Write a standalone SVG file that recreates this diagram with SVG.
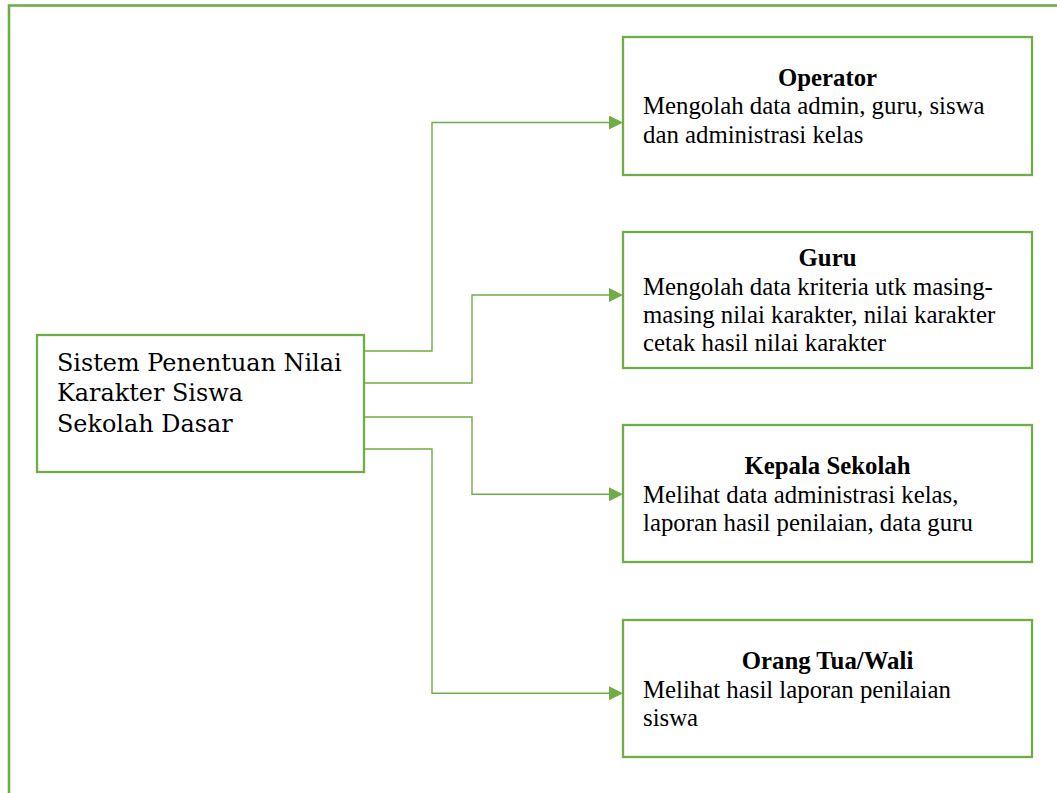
<svg xmlns="http://www.w3.org/2000/svg" width="1057" height="793" viewBox="0 0 1057 793">
<defs>
<style>
.frame{fill:none;stroke:#70AD47;stroke-width:2.6}
.box{fill:#fff;stroke:#70AD47;stroke-width:2.3}
.conn{fill:none;stroke:#70AD47;stroke-width:1.4}
.t{font-family:"Liberation Serif","Times New Roman",serif;font-size:24.8px;fill:#000}
.b{font-weight:bold;text-anchor:middle}
.m{font-family:"DejaVu Serif","Bookman Old Style",serif;font-size:23.9px;fill:#000}
</style>
<marker id="ah" markerWidth="14" markerHeight="14" refX="0" refY="7" orient="auto" markerUnits="userSpaceOnUse">
<path d="M0,0 L14,7 L0,14 z" fill="#70AD47"/>
</marker>
</defs>
<rect width="1057" height="793" fill="#fff"/>
<rect class="frame" x="9" y="5.5" width="1100" height="850"/>
<g id="connectors">
<path class="conn" d="M365,351 H432 V122.5 H609" marker-end="url(#ah)"/>
<path class="conn" d="M365,383 H472 V295 H609" marker-end="url(#ah)"/>
<path class="conn" d="M365,417 H472 V494.3 H609" marker-end="url(#ah)"/>
<path class="conn" d="M365,449 H432 V693.3 H609" marker-end="url(#ah)"/>
</g>
<g id="main">
<rect class="box" x="37" y="335" width="327" height="137"/>
<text class="m" x="57" y="371">Sistem Penentuan Nilai</text>
<text class="m" x="57" y="401">Karakter Siswa</text>
<text class="m" x="57" y="431.5">Sekolah Dasar</text>
</g>
<g id="operator">
<rect class="box" x="623" y="37" width="409" height="138"/>
<text class="t b" x="827.5" y="85.7">Operator</text>
<text class="t" x="643" y="114.3">Mengolah data admin, guru, siswa</text>
<text class="t" x="643" y="142.7">dan administrasi kelas</text>
</g>
<g id="guru">
<rect class="box" x="623" y="232" width="409" height="136"/>
<text class="t b" x="827.5" y="265.7">Guru</text>
<text class="t" x="643" y="294.5">Mengolah data kriteria utk masing-</text>
<text class="t" x="643" y="322.6">masing nilai karakter, nilai karakter</text>
<text class="t" x="643" y="350.8">cetak hasil nilai karakter</text>
</g>
<g id="kepala">
<rect class="box" x="623" y="425" width="409" height="137"/>
<text class="t b" x="827.5" y="474.3">Kepala Sekolah</text>
<text class="t" x="643" y="502.5">Melihat data administrasi kelas,</text>
<text class="t" x="643" y="530.5">laporan hasil penilaian, data guru</text>
</g>
<g id="orangtua">
<rect class="box" x="623" y="620" width="409" height="137"/>
<text class="t b" x="827.5" y="669">Orang Tua/Wali</text>
<text class="t" x="643" y="697.5">Melihat hasil laporan penilaian</text>
<text class="t" x="643" y="726">siswa</text>
</g>
</svg>
